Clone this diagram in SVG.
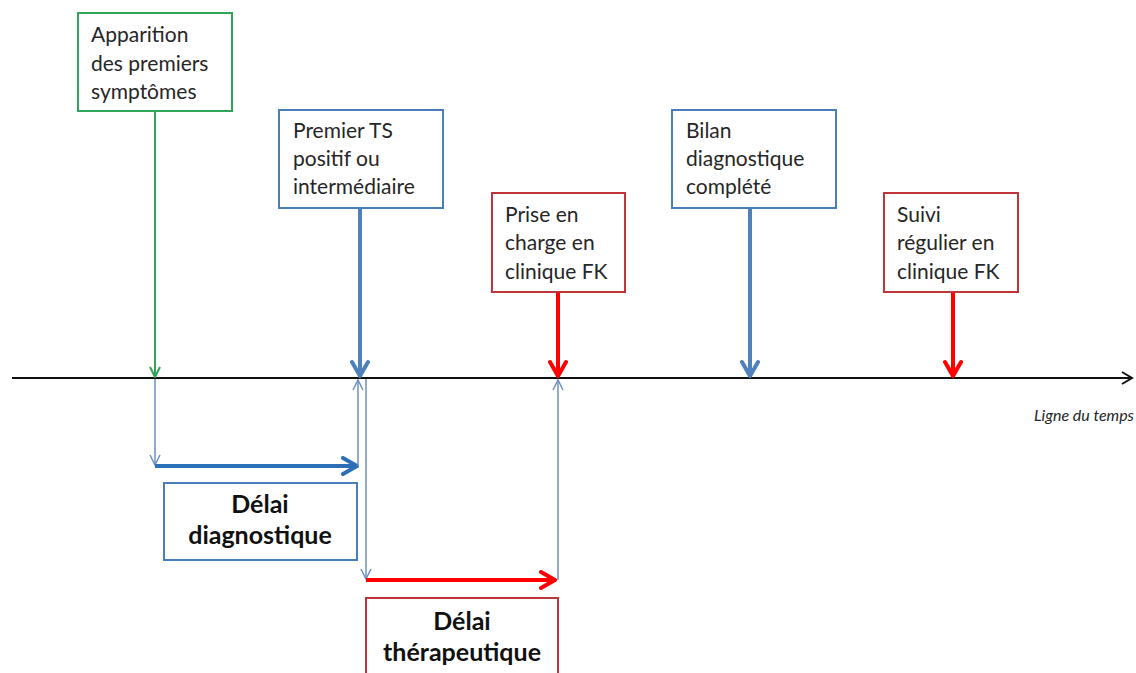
<svg xmlns="http://www.w3.org/2000/svg" width="1136" height="673" viewBox="0 0 1136 673">
<style>
.box{fill:#fff;stroke-width:2}
.g{stroke:#2EA557}
.b{stroke:#4A7EBB}
.r{stroke:#C0353A}
.t{font-family:Lato,"Liberation Sans",sans-serif;font-size:21px;fill:#262626}
.tb{font-family:Lato,"Liberation Sans",sans-serif;font-size:25px;font-weight:bold;fill:#111;text-anchor:middle}
.thin{stroke:#6E8FC4;stroke-width:1.5;fill:none}
</style>
<defs>
<marker id="aThin" viewBox="0 0 12 12" refX="11" refY="6" markerWidth="12" markerHeight="12" markerUnits="userSpaceOnUse" orient="auto">
<path d="M1,1 L11,6 L1,11" fill="none" stroke="#6E8FC4" stroke-width="1.5"/>
</marker>
<marker id="aGreen" viewBox="0 0 12 12" refX="11" refY="6" markerWidth="12" markerHeight="12" markerUnits="userSpaceOnUse" orient="auto">
<path d="M1,1 L11,6 L1,11" fill="none" stroke="#2EA557" stroke-width="2"/>
</marker>
<marker id="aBlue" viewBox="0 0 20 20" refX="18" refY="10" markerWidth="20" markerHeight="20" markerUnits="userSpaceOnUse" orient="auto">
<path d="M3,2 L17,10 L3,18" fill="none" stroke="#4F81BD" stroke-width="4" stroke-linecap="round" stroke-linejoin="round"/>
</marker>
<marker id="aBlue2" viewBox="0 0 20 20" refX="18" refY="10" markerWidth="20" markerHeight="20" markerUnits="userSpaceOnUse" orient="auto">
<path d="M3,2 L17,10 L3,18" fill="none" stroke="#2A6FB8" stroke-width="4" stroke-linecap="round" stroke-linejoin="round"/>
</marker>
<marker id="aRed" viewBox="0 0 20 20" refX="18" refY="10" markerWidth="20" markerHeight="20" markerUnits="userSpaceOnUse" orient="auto">
<path d="M3,2 L17,10 L3,18" fill="none" stroke="#FF0000" stroke-width="4" stroke-linecap="round" stroke-linejoin="round"/>
</marker>
<marker id="aBlack" viewBox="0 0 14 14" refX="12" refY="7" markerWidth="14" markerHeight="14" markerUnits="userSpaceOnUse" orient="auto">
<path d="M2,1 L12,7 L2,13" fill="none" stroke="#111" stroke-width="2"/>
</marker>
</defs>

<g id="connectors">
<line x1="12" y1="378" x2="1132" y2="378" stroke="#111" stroke-width="2" marker-end="url(#aBlack)"/>
<line x1="155" y1="112" x2="155" y2="377" stroke="#2EA557" stroke-width="2" marker-end="url(#aGreen)"/>
<line x1="360" y1="208" x2="360" y2="377" stroke="#4F81BD" stroke-width="4" marker-end="url(#aBlue)"/>
<line x1="558" y1="292" x2="558" y2="377" stroke="#FF0000" stroke-width="4" marker-end="url(#aRed)"/>
<line x1="750" y1="208" x2="750" y2="377" stroke="#4F81BD" stroke-width="4" marker-end="url(#aBlue)"/>
<line x1="953" y1="292" x2="953" y2="377" stroke="#FF0000" stroke-width="4" marker-end="url(#aRed)"/>
<line class="thin" x1="155" y1="379" x2="155" y2="465" marker-end="url(#aThin)"/>
<line x1="155" y1="466" x2="358" y2="466" stroke="#2A6FB8" stroke-width="4" marker-end="url(#aBlue2)"/>
<line class="thin" x1="358" y1="466" x2="358" y2="380" marker-end="url(#aThin)"/>
<line class="thin" x1="366" y1="379" x2="366" y2="579" marker-end="url(#aThin)"/>
<line x1="366" y1="580" x2="556" y2="580" stroke="#FF0000" stroke-width="4" marker-end="url(#aRed)"/>
<line class="thin" x1="558" y1="580" x2="558" y2="380" marker-end="url(#aThin)"/>
</g>

<g id="n-apparition">
<rect class="box g" x="78" y="13" width="154" height="98"/>
<text class="t" x="91" y="42">Apparition</text>
<text class="t" x="91" y="71">des premiers</text>
<text class="t" x="91" y="99">symptômes</text>
</g>
<g id="n-premier-ts">
<rect class="box b" x="279" y="110" width="164" height="98"/>
<text class="t" x="293" y="138">Premier TS</text>
<text class="t" x="293" y="166">positif ou</text>
<text class="t" x="293" y="194">intermédiaire</text>
</g>
<g id="n-prise-en-charge">
<rect class="box r" x="492" y="193" width="133" height="99"/>
<text class="t" x="505" y="222">Prise en</text>
<text class="t" x="505" y="250">charge en</text>
<text class="t" x="505" y="279">clinique FK</text>
</g>
<g id="n-bilan">
<rect class="box b" x="672" y="110" width="164" height="98"/>
<text class="t" x="686" y="138">Bilan</text>
<text class="t" x="686" y="166">diagnostique</text>
<text class="t" x="686" y="194">complété</text>
</g>
<g id="n-suivi">
<rect class="box r" x="884" y="193" width="134" height="99"/>
<text class="t" x="897" y="222">Suivi</text>
<text class="t" x="897" y="250">régulier en</text>
<text class="t" x="897" y="279">clinique FK</text>
</g>
<g id="n-delai-diag">
<rect class="box b" x="164" y="483" width="193" height="77"/>
<text class="tb" x="260" y="513">Délai</text>
<text class="tb" x="260" y="544">diagnostique</text>
</g>
<g id="n-delai-ther">
<rect class="box r" x="366" y="598" width="192" height="90"/>
<text class="tb" x="462" y="630">Délai</text>
<text class="tb" x="462" y="661">thérapeutique</text>
</g>
<text x="1134" y="421" text-anchor="end" font-family="Lato,'Liberation Sans',sans-serif" font-style="italic" font-size="16" fill="#262626">Ligne du temps</text>
</svg>
